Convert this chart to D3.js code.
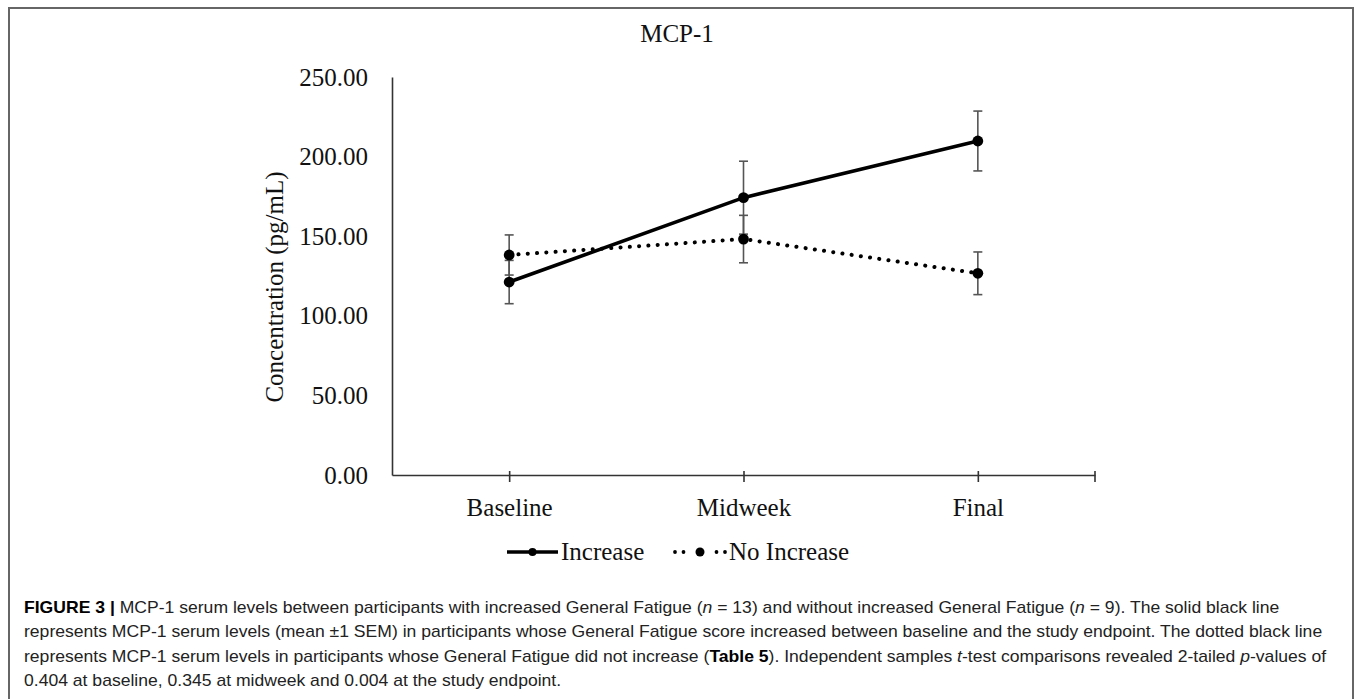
<!DOCTYPE html>
<html>
<head>
<meta charset="utf-8">
<script src="https://cdn.jsdelivr.net/npm/d3@7"></script>
<style>
  html, body { margin: 0; padding: 0; background: #fff; }
  svg { display: block; }
</style>
</head>
<body>
<script>
// ---- Data ----
const categories = ["Baseline", "Midweek", "Final"];
const increaseMean = [121.2, 174.2, 209.8];
const increaseSEM = [13.6, 22.9, 18.8];
const noIncreaseMean = [138.2, 148.2, 126.7];
const noIncreaseSEM = [12.6, 14.9, 13.4];
const yTicks = [0, 50, 100, 150, 200, 250];
const seriesNames = ["Increase", "No Increase"];
const chartTitle = "MCP-1";
const yTitle = "Concentration (pg/mL)";
const captionLines = [
  [["b", "FIGURE 3 | "], ["n", "MCP-1 serum levels between participants with increased General Fatigue ("], ["i", "n"], ["n", " = 13) and without increased General Fatigue ("], ["i", "n"], ["n", " = 9). The solid black line"]],
  [["n", "represents MCP-1 serum levels (mean ±1 SEM) in participants whose General Fatigue score increased between baseline and the study endpoint. The dotted black line"]],
  [["n", "represents MCP-1 serum levels in participants whose General Fatigue did not increase ("], ["b", "Table 5"], ["n", "). Independent samples "], ["i", "t"], ["n", "-test comparisons revealed 2-tailed "], ["i", "p"], ["n", "-values of"]],
  [["n", "0.404 at baseline, 0.345 at midweek and 0.004 at the study endpoint."]]
];

// ---- Layout ----
const W = 1355, H = 699;
const svg = d3.select("body").append("svg").attr("width", W).attr("height", H);
const serif = "'Liberation Serif', 'Times New Roman', serif";
const sans = "'Liberation Sans', Arial, sans-serif";

// frame
svg.append("path")
  .attr("d", `M9,${H + 5} L9,8 L1353,8 L1353,${H + 5}`)
  .attr("fill", "none").attr("stroke", "#666").attr("stroke-width", 2);

const x = d3.scalePoint().domain(categories).range([392, 1095]).padding(0.5);
const y = d3.scaleLinear().domain([0, 250]).range([475, 77]);

// title
svg.append("text").attr("x", 677).attr("y", 42).attr("text-anchor", "middle")
  .attr("font-family", serif).attr("font-size", 25).attr("fill", "#111").text(chartTitle);

// y axis
const yAxis = svg.append("g").attr("transform", "translate(392,0)")
  .call(d3.axisLeft(y).tickValues(yTicks).tickFormat(d3.format(".2f")).tickSize(0).tickPadding(24));
yAxis.select(".domain").attr("stroke", "#333").attr("stroke-width", 1.6);
yAxis.selectAll("text").attr("font-family", serif).attr("font-size", 25).attr("fill", "#111");

// x axis
const xAxis = svg.append("g").attr("transform", "translate(0,475)")
  .call(d3.axisBottom(x).tickSizeInner(7).tickSizeOuter(0).tickPadding(16));
xAxis.select(".domain").attr("stroke", "#333").attr("stroke-width", 1.6);
xAxis.selectAll(".tick line").attr("y1", -4).attr("y2", 7).attr("stroke", "#333").attr("stroke-width", 1.6);
xAxis.selectAll("text").attr("font-family", serif).attr("font-size", 25).attr("fill", "#111").attr("dy", "0.71em");
xAxis.append("line").attr("x1", x.range()[1]).attr("x2", x.range()[1]).attr("y1", -4).attr("y2", 7)
  .attr("stroke", "#333").attr("stroke-width", 1.6);

// y title
svg.append("text").attr("transform", "translate(283,287) rotate(-90)")
  .attr("text-anchor", "middle").attr("font-family", serif).attr("font-size", 25).attr("fill", "#111")
  .text(yTitle);

// series
const series = [
  { name: seriesNames[0], mean: increaseMean, sem: increaseSEM, dash: null, width: 3.6 },
  { name: seriesNames[1], mean: noIncreaseMean, sem: noIncreaseSEM, dash: "0.1 9.2", width: 4 }
];

const line = d3.line().x((d, i) => x(categories[i])).y(d => y(d));

// error bars
series.forEach(s => {
  const g = svg.append("g");
  s.mean.forEach((m, i) => {
    const cx = x(categories[i]);
    const y1 = y(m + s.sem[i]), y2 = y(m - s.sem[i]);
    g.append("line").attr("x1", cx).attr("x2", cx).attr("y1", y1).attr("y2", y2)
      .attr("stroke", "#555").attr("stroke-width", 1.6);
    [y1, y2].forEach(yy => g.append("line").attr("x1", cx - 4.5).attr("x2", cx + 4.5)
      .attr("y1", yy).attr("y2", yy).attr("stroke", "#555").attr("stroke-width", 1.6));
  });
});

series.forEach(s => {
  const p = svg.append("path").datum(s.mean).attr("d", line)
    .attr("fill", "none").attr("stroke", "#000").attr("stroke-width", s.width);
  if (s.dash) p.attr("stroke-dasharray", s.dash).attr("stroke-linecap", "round");
  svg.append("g").selectAll("circle").data(s.mean).join("circle")
    .attr("cx", (d, i) => x(categories[i])).attr("cy", d => y(d)).attr("r", 5.4).attr("fill", "#000");
});

// legend
const lg = svg.append("g");
lg.append("line").attr("x1", 507).attr("x2", 558).attr("y1", 552).attr("y2", 552)
  .attr("stroke", "#000").attr("stroke-width", 3.6);
lg.append("circle").attr("cx", 532.5).attr("cy", 552).attr("r", 4).attr("fill", "#000");
lg.append("text").attr("x", 561).attr("y", 560).attr("font-family", serif).attr("font-size", 25)
  .attr("fill", "#111").text(seriesNames[0]);
[675, 683.5, 716.5, 725].forEach(cx => lg.append("circle").attr("cx", cx).attr("cy", 552).attr("r", 1.9).attr("fill", "#000"));
lg.append("circle").attr("cx", 700).attr("cy", 552).attr("r", 4.5).attr("fill", "#000");
lg.append("text").attr("x", 729).attr("y", 560).attr("font-family", serif).attr("font-size", 25)
  .attr("fill", "#111").text(seriesNames[1]);

// caption
let sx = null;
captionLines.forEach((parts, li) => {
  const gy = 613 + li * 24.3;
  const g = svg.append("g");
  const t = g.append("text").attr("x", 0).attr("y", 0).attr("font-family", sans)
    .attr("font-size", 16).attr("fill", "#222");
  parts.forEach(([k, s]) => {
    const ts = t.append("tspan").text(s);
    if (k === "b") ts.attr("font-weight", "bold").attr("fill", "#000");
    if (k === "i") ts.attr("font-style", "italic");
  });
  if (sx === null) sx = (1280 - 24) / t.node().getComputedTextLength();
  g.attr("transform", `translate(24,${gy}) scale(${sx},1)`);
});
</script>
</body>
</html>
